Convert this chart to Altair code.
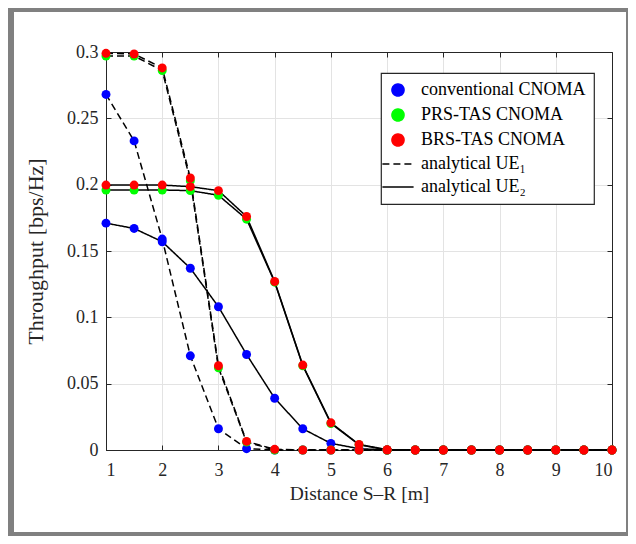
import altair as alt
import pandas as pd

# ---------------- data ----------------
distance = [1, 1.5, 2, 2.5, 3, 3.5, 4, 4.5, 5, 5.5, 6, 6.5, 7, 7.5, 8, 8.5, 9, 9.5, 10]

conv_ue1 = [0.268, 0.233, 0.159, 0.071, 0.016, 0.001, 0, 0, 0, 0, 0, 0, 0, 0, 0, 0, 0, 0, 0]
conv_ue2 = [0.171, 0.167, 0.157, 0.137, 0.108, 0.072, 0.039, 0.016, 0.005, 0.001, 0, 0, 0, 0, 0, 0, 0, 0, 0]
prs_ue1 = [0.297, 0.297, 0.286, 0.203, 0.062, 0.006, 0, 0, 0, 0, 0, 0, 0, 0, 0, 0, 0, 0, 0]
prs_ue2 = [0.196, 0.196, 0.196, 0.1955, 0.192, 0.174, 0.1265, 0.0635, 0.020, 0.004, 0, 0, 0, 0, 0, 0, 0, 0, 0]
brs_ue1 = [0.299, 0.2985, 0.288, 0.205, 0.0635, 0.0065, 0.0005, 0, 0, 0, 0, 0, 0, 0, 0, 0, 0, 0, 0]
brs_ue2 = [0.1997, 0.1997, 0.1997, 0.1985, 0.1955, 0.176, 0.127, 0.064, 0.0205, 0.0042, 0.0003, 0, 0, 0, 0, 0, 0, 0, 0]

schemes = ["conventional CNOMA", "PRS-TAS CNOMA", "BRS-TAS CNOMA"]
line_labels = ["analytical UE\u2081", "analytical UE\u2082"]
scheme_colors = ["#0000ff", "#00ff00", "#ff0000"]

x_ticks = [1, 2, 3, 4, 5, 6, 7, 8, 9, 10]
y_ticks = [0, 0.05, 0.1, 0.15, 0.2, 0.25, 0.3]

series = {
    schemes[0]: (conv_ue1, conv_ue2),
    schemes[1]: (prs_ue1, prs_ue2),
    schemes[2]: (brs_ue1, brs_ue2),
}

# ---------------- tables ----------------
pt_rows, ln_rows = [], []
for s in schemes:
    for k, vals in enumerate(series[s]):
        for x, v in zip(distance, vals):
            pt_rows.append({"x": x, "y": v, "legend": s})
            ln_rows.append({"x": x, "y": v, "legend": line_labels[k], "series": s + str(k)})
pts = pd.DataFrame(pt_rows)
lns = pd.DataFrame(ln_rows)
ue1 = lns[lns["legend"] == line_labels[0]]
ue2 = lns[lns["legend"] == line_labels[1]]

W, H = 506, 398
dom = schemes + line_labels
color_scale = alt.Scale(domain=dom, range=scheme_colors + ["black", "black"])
shape_scale = alt.Scale(domain=dom, range=["circle", "circle", "circle", "M-2.6,0L2.6,0", "M-2.6,0L2.6,0"])
dash_scale = alt.Scale(domain=dom, range=[[1, 0], [1, 0], [1, 0], [7, 4], [1, 0]])

xs = alt.Scale(domain=[1, 10], nice=False)
ys = alt.Scale(domain=[0, 0.3], nice=False)

FONT = "Liberation Serif"
TXT = "#262626"
AX = "#262626"

main_x = alt.Axis(values=x_ticks, title="Distance S\u2013R [m]", grid=True, ticks=False,
                  domain=True, domainColor=AX, labelPadding=11, titlePadding=5,
                  titleFontSize=19.5)
main_y = alt.Axis(values=y_ticks, format="~g", title="Throughput  [bps/Hz]", grid=True,
                  ticks=False, domain=True, domainColor=AX, labelPadding=8, titlePadding=19,
                  titleFontSize=22)

def tick_axis(orient, vals, off):
    return alt.Axis(orient=orient, values=vals, offset=off, labels=False, title=None,
                    grid=False, domain=True, domainColor=AX, ticks=True, tickSize=5,
                    tickColor=AX)

leg = alt.Legend(title=None)

lines_ue1 = alt.Chart(ue1).mark_line(strokeWidth=1.5).encode(
    x=alt.X("x:Q", scale=xs, axis=main_x),
    y=alt.Y("y:Q", scale=ys, axis=main_y),
    color=alt.Color("legend:N", scale=color_scale, legend=leg),
    strokeDash=alt.StrokeDash("legend:N", scale=dash_scale, legend=leg),
    detail="series:N",
)

lines_ue2 = alt.Chart(ue2).mark_line(strokeWidth=1.5).encode(
    x=alt.X("x:Q", scale=xs, axis=tick_axis("top", x_ticks, -H)),
    y=alt.Y("y:Q", scale=ys, axis=tick_axis("right", y_ticks, -W)),
    color=alt.Color("legend:N", scale=color_scale, legend=leg),
    strokeDash=alt.StrokeDash("legend:N", scale=dash_scale, legend=leg),
    detail="series:N",
)

points = alt.Chart(pts).mark_point(filled=True, size=80, opacity=1).encode(
    x=alt.X("x:Q", scale=xs, axis=tick_axis("bottom", x_ticks, -H)),
    y=alt.Y("y:Q", scale=ys, axis=tick_axis("left", y_ticks, -W)),
    color=alt.Color("legend:N", scale=color_scale, legend=leg),
    shape=alt.Shape("legend:N", scale=shape_scale, legend=leg),
)

# gray picture frame (decoration around the figure)
frame = alt.Chart(pd.DataFrame({"a": [0]})).mark_rect(
    fillOpacity=0, stroke="#808080", strokeWidth=8
).encode(
    x=alt.value(-96), x2=alt.value(524), y=alt.value(-44), y2=alt.value(484)
)

chart = alt.layer(frame, lines_ue1, lines_ue2, points).resolve_axis(
    x="independent", y="independent"
).properties(
    width=W, height=H,
    autosize=alt.AutoSizeParams(type="none"),
    padding={"left": 98, "top": 44, "right": 16, "bottom": 86},
    background="white",
).configure_view(stroke=None).configure_axis(
    labelFont=FONT, labelFontSize=18, labelColor=TXT,
    titleFont=FONT, titleColor=TXT, titleFontWeight="normal",
    gridColor="#e3e3e3", gridWidth=1, domainWidth=1,
).configure_legend(
    orient="none", legendX=275, legendY=21,
    strokeColor="#262626", strokeWidth=1.2, fillColor="white",
    padding=8, rowPadding=5, labelFont=FONT, labelFontSize=18, labelColor="black",
    symbolSize=144, symbolStrokeWidth=1.6, labelOffset=14, labelLimit=400,
)

chart.save("out.html", embed_options={"renderer": "svg", "actions": False})
